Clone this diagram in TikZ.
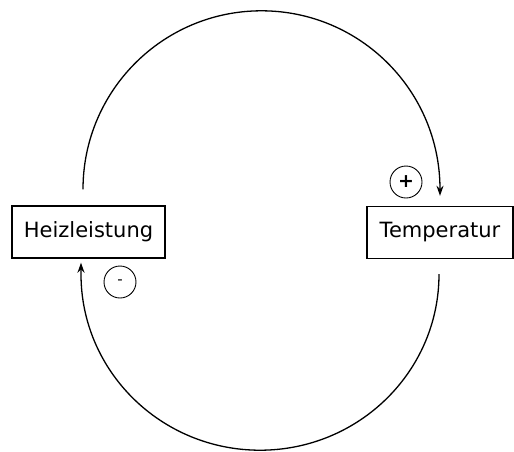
\documentclass[tikz,border=0pt]{standalone}
\usepackage{fontspec}
\setmainfont{DejaVu Sans}
\usetikzlibrary{arrows.meta,calc}
\begin{document}
\begin{tikzpicture}[x=1pt,y=-1pt,
  varbox/.style={draw, line width=1.4pt, inner sep=0pt, minimum height=52pt, font=\fontsize{21}{24}\selectfont},
  sign/.style={draw, circle, line width=0.9pt, inner sep=0pt, minimum size=32pt},
  link/.style={line width=1.3pt, -{Stealth[length=10pt,width=7pt]}}]
\useasboundingbox (0,0) rectangle (514,451);
\node[varbox, minimum width=153pt] (heiz) at (88.5,232) {Heizleistung};
\node[varbox, minimum width=146pt] (temp) at (440,232.5) {Temperatur};
\coordinate (t1) at ($(heiz.north)+(-5.5,-16)$);
\coordinate (t2) at ($(temp.north)+(0,-10)$);
\coordinate (b1) at ($(temp.south)+(-1,15)$);
\coordinate (b2) at ($(heiz.south)+(-7.5,4)$);
\draw[link] (t1) arc[start angle=180, end angle=0, radius=178.5pt] -- (t2);
\draw[link] (b1) arc[start angle=0, end angle=-180, x radius=179pt, y radius=176pt] -- (b2);
\node[sign, font=\fontsize{19}{19}\bfseries] (plus) at (406,182) {+};
\node[sign, font=\fontsize{15}{15}\selectfont] (minus) at (120,282) {-};
\end{tikzpicture}
\end{document}
